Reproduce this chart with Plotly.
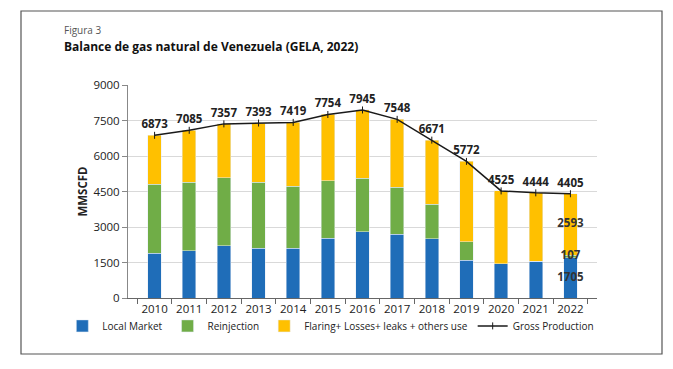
import plotly.graph_objects as go

years = ["2010", "2011", "2012", "2013", "2014", "2015", "2016",
         "2017", "2018", "2019", "2020", "2021", "2022"]
gross = [6873, 7085, 7357, 7393, 7419, 7754, 7945, 7548, 6671, 5772, 4525, 4444, 4405]
local_market = [1900, 2000, 2200, 2100, 2100, 2520, 2800, 2700, 2500, 1600, 1450, 1560, 1705]
reinjection = [2900, 2900, 2880, 2800, 2620, 2440, 2260, 1980, 1460, 780, 0, 0, 107]
flaring = [g - l - r for g, l, r in zip(gross, local_market, reinjection)]
flaring[-1] = 2593

C_BLUE = "#1F6DB8"
C_GREEN = "#70AD47"
C_YELLOW = "#FFC000"
FONT = "Open Sans"

fig = go.Figure()
fig.add_bar(x=years, y=local_market, name="Local Market", marker_color=C_BLUE)
fig.add_bar(x=years, y=reinjection, name="Reinjection", marker_color=C_GREEN)
fig.add_bar(x=years, y=flaring, name="Flaring+ Losses+ leaks + others use", marker_color=C_YELLOW)
fig.add_scatter(x=years, y=gross, name="Gross Production", mode="lines+markers+text",
                line=dict(color="#1a1a1a", width=1.5),
                marker=dict(symbol="line-ns-open", size=5, color="#1a1a1a",
                            line=dict(width=1, color="#1a1a1a")),
                text=[f"<b>{v}</b>" for v in gross], textposition="top center",
                textfont=dict(family=FONT, size=11.5, color="#222"))

# inner labels for last year (as a text trace)
l, r, f = local_market[-1], reinjection[-1], flaring[-1]
fig.add_scatter(x=[years[-1]] * 3, y=[l / 2, l + r / 2, l + r + f / 2],
                mode="text", text=[f"<b>{v}</b>" for v in (l, r, f)],
                textposition="middle center", showlegend=False, hoverinfo="skip",
                textfont=dict(family=FONT, size=11.5, color="#333"))

# title (paper-referenced)
fig.add_annotation(xref="paper", yref="paper", x=-0.141, y=1.257, xanchor="left",
                   yanchor="middle", text="Figura 3", showarrow=False,
                   font=dict(family=FONT, size=10, color="#555"))
fig.add_annotation(xref="paper", yref="paper", x=-0.141, y=1.18, xanchor="left",
                   yanchor="middle",
                   text="<b>Balance de gas natural de Venezuela (GELA, 2022)</b>",
                   showarrow=False, font=dict(family=FONT, size=12, color="#111"))

# frame
fig.add_shape(type="rect", xref="paper", yref="paper",
              x0=(21 - 128) / 469, x1=(662 - 128) / 469,
              y0=(298 - 354) / 213, y1=(298 - 11) / 213,
              line=dict(color="#555", width=1.2))

fig.update_layout(
    barmode="stack", bargap=0.61,
    width=665, height=361,
    margin=dict(l=120, r=76, t=77, b=71, autoexpand=False),
    paper_bgcolor="white", plot_bgcolor="white",
    font=dict(family=FONT, size=11, color="#222"),
    showlegend=True,
    legend=dict(orientation="h", x=-0.14, xanchor="left", y=-0.131, yanchor="middle",
                traceorder="normal", itemwidth=30,
                font=dict(family=FONT, size=10, color="#222"),
                bgcolor="rgba(0,0,0,0)"),
)
fig.update_yaxes(range=[0, 9000], tickvals=[0, 1500, 3000, 4500, 6000, 7500, 9000],
                 showgrid=True, gridcolor="#d9d9d9",
                 showline=True, linecolor="#888", ticks="outside", ticklen=5,
                 tickcolor="#888", zeroline=False,
                 tickfont=dict(family=FONT, size=11.5, color="#222"),
                 title=dict(text="<b>MMSCFD</b>", standoff=3,
                            font=dict(family=FONT, size=11.5, color="#222")))
fig.update_xaxes(type="category", showline=True, linecolor="#666", ticks="outside",
                 tickson="boundaries", ticklen=5, tickcolor="#666", showgrid=False,
                 tickangle=0, tickfont=dict(family=FONT, size=11.5, color="#222"))

fig.write_html("out.html")
